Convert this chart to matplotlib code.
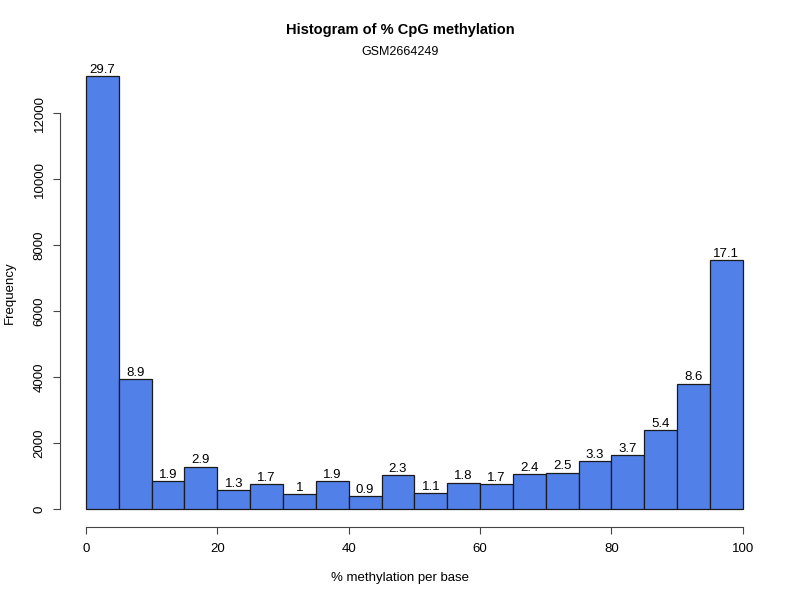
import numpy as np
import matplotlib
matplotlib.use("Agg")
import matplotlib.pyplot as plt

plt.rcParams['font.family'] = ['Liberation Sans', 'DejaVu Sans']

# histogram bins (5% wide) and counts
edges = np.arange(0, 105, 5)
counts = [13120, 3930, 840, 1280, 575, 750, 442, 840, 398, 1016,
          486, 795, 751, 1060, 1104, 1458, 1634, 2385, 3799, 7554]
pct_labels = ['29.7', '8.9', '1.9', '2.9', '1.3', '1.7', '1', '1.9', '0.9', '2.3',
              '1.1', '1.8', '1.7', '2.4', '2.5', '3.3', '3.7', '5.4', '8.6', '17.1']

fig = plt.figure(figsize=(8, 6), dpi=100)
ax = fig.add_axes([59.7 / 800, 73 / 600, (769 - 59.7) / 800, (527 - 59) / 600])

ymax = max(counts) * 1.04
ax.set_xlim(-4, 104)
ax.set_ylim(-0.04 * ymax, ymax)

ax.bar(edges[:-1], counts, width=5, align='edge', color='#5180e9',
       edgecolor='#1a1a1a', linewidth=0.9)

for x0, c, lab in zip(edges[:-1], counts, pct_labels):
    ax.text(x0 + 2.5, c + 100, lab, ha='center', va='baseline', fontsize=9.5)

for s in ['top', 'right']:
    ax.spines[s].set_visible(False)
ax.spines['left'].set_bounds(0, 12000)
ax.spines['bottom'].set_bounds(0, 100)
ax.spines['left'].set_color('#444444')
ax.spines['bottom'].set_color('#444444')

ax.set_xticks([0, 20, 40, 60, 80, 100])
ax.set_yticks([0, 2000, 4000, 6000, 8000, 10000, 12000])
ax.tick_params(axis='both', labelsize=9.5, length=5.2, color='#444444')
ax.tick_params(axis='x', pad=6)
ax.tick_params(axis='y', pad=5)
for t in ax.get_yticklabels():
    t.set_rotation(90)
    t.set_va('center')

fig.text(0.5, 1 - 578 / 600, '% methylation per base', ha='center', va='center', fontsize=9.5)
fig.text(10 / 800, 1 - 293 / 600, 'Frequency', ha='center', va='center',
         rotation=90, fontsize=9.5)

fig.text(0.5, 1 - 30 / 600, 'Histogram of % CpG methylation',
         ha='center', va='center', fontsize=10.5, fontweight='bold')
fig.text(0.5, 1 - 52 / 600, 'GSM2664249', ha='center', va='center', fontsize=9)

fig.savefig('out.png', dpi=100)
